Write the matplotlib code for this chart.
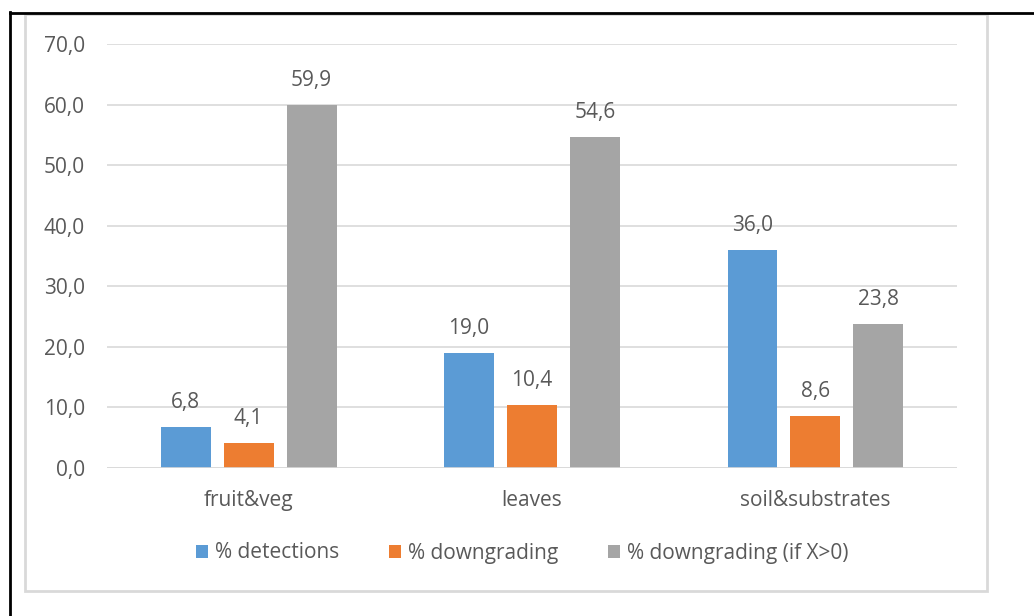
import matplotlib
matplotlib.use("Agg")
import numpy as np
from matplotlib import pyplot as plt
from matplotlib.lines import Line2D
from matplotlib.patches import Rectangle

categories = ["fruit&veg", "leaves", "soil&substrates"]
series_names = ["% detections", "% downgrading", "% downgrading (if X>0)"]
detections = [6.8, 19.0, 36.0]
downgrading = [4.1, 10.4, 8.6]
downgrading_pos = [59.9, 54.6, 23.8]
y_ticks = [0, 10, 20, 30, 40, 50, 60, 70]

colors = ["#5B9BD5", "#ED7D31", "#A5A5A5"]
text_color = "#595959"
grid_color = "#D9D9D9"

plt.rcParams['font.family'] = ['Open Sans', 'DejaVu Sans']

W, H = 1034, 616
fig = plt.figure(figsize=(W / 100, H / 100), dpi=100)
fig.patch.set_facecolor("white")


def px(x, y):
    # figure pixel (top-left origin) -> figure fraction
    return x / W, 1 - y / H


# outer black lines and grey chart frame
fig.add_artist(Line2D([10 / W, 10 / W], [0, 1 - 12 / H], color="black", lw=2, transform=fig.transFigure))
fig.add_artist(Line2D([10 / W, 1], [1 - 13 / H, 1 - 13 / H], color="black", lw=2, transform=fig.transFigure))
x0, y0 = px(25, 591)
x1, y1 = px(987, 14)
fig.add_artist(Rectangle((x0, y0), x1 - x0, y1 - y0, fill=False, edgecolor=grid_color, lw=2,
                         transform=fig.transFigure))

ax = fig.add_axes([107 / W, 1 - 468 / H, 850 / W, 424 / H])
ax.set_facecolor("none")

x = np.arange(len(categories))
step = 0.222
width = 0.176
all_series = [detections, downgrading, downgrading_pos]
for i, (vals, name, c) in enumerate(zip(all_series, series_names, colors)):
    pos = x + (i - 1) * step
    bars = ax.bar(pos, vals, width=width, color=c, label=name, zorder=3)
    for b, v in zip(bars, vals):
        ax.text(b.get_x() + b.get_width() / 2, v + 2.3, f"{v:.1f}".replace(".", ","),
                ha="center", va="bottom", fontsize=15, color=text_color)

ax.set_xlim(-0.5, 2.5)
ax.set_ylim(0, 70)
ax.set_yticks(y_ticks)
ax.set_yticklabels([f"{t:.1f}".replace(".", ",") for t in y_ticks])
ax.set_xticks(x)
ax.set_xticklabels(categories)
ax.tick_params(axis="both", length=0, colors=text_color, labelsize=15)
ax.tick_params(axis="y", pad=16)
ax.tick_params(axis="x", pad=16)
ax.grid(axis="y", color=grid_color, lw=1.2, zorder=0)
for s in ax.spines.values():
    s.set_visible(False)
ax.axhline(0, color=grid_color, lw=1.2, zorder=4)

leg = fig.legend(loc="center", bbox_to_anchor=px(522, 553), ncol=3, frameon=False,
                 fontsize=15, handlelength=0.6, handleheight=0.6, handletextpad=0.3,
                 columnspacing=2.4, labelcolor=text_color)

fig.savefig("out.png", dpi=100)
